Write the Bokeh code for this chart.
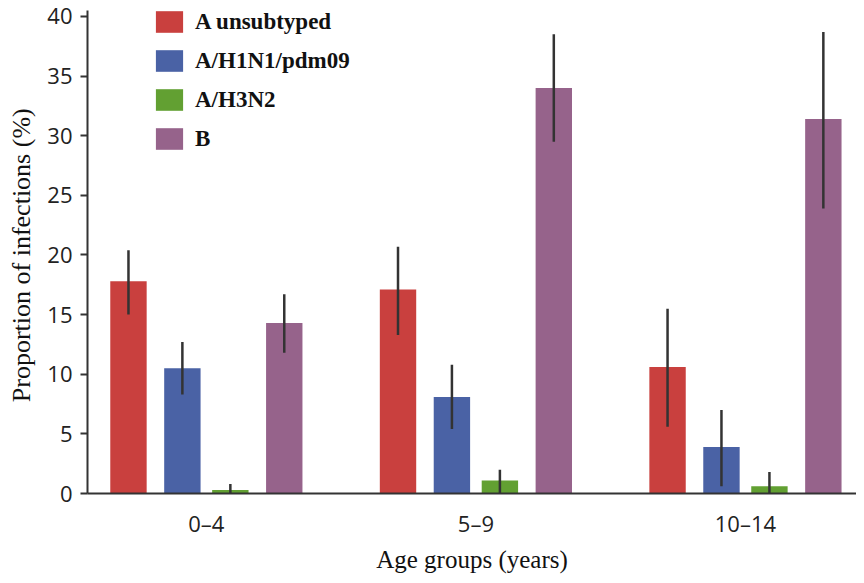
from bokeh.plotting import figure
from bokeh.models import Range1d, FixedTicker, ColumnDataSource, Legend, LegendItem
from bokeh.transform import dodge
from bokeh.embed import file_html
from bokeh.resources import INLINE

age_groups = ["0–4", "5–9", "10–14"]
subtypes = ["A unsubtyped", "A/H1N1/pdm09", "A/H3N2", "B"]
colors = ["#C9403E", "#4A62A5", "#62A032", "#96638B"]

a_unsub = [17.8, 17.1, 10.6]
a_unsub_lo = [15.0, 13.3, 5.6]
a_unsub_hi = [20.4, 20.7, 15.5]

h1n1 = [10.5, 8.1, 3.9]
h1n1_lo = [8.3, 5.4, 0.6]
h1n1_hi = [12.7, 10.8, 7.0]

h3n2 = [0.3, 1.1, 0.6]
h3n2_lo = [0.0, 0.0, 0.0]
h3n2_hi = [0.8, 2.0, 1.8]

b_vals = [14.3, 34.0, 31.4]
b_lo = [11.8, 29.5, 23.9]
b_hi = [16.7, 38.5, 38.7]

series = [
    (a_unsub, a_unsub_lo, a_unsub_hi),
    (h1n1, h1n1_lo, h1n1_hi),
    (h3n2, h3n2_lo, h3n2_hi),
    (b_vals, b_lo, b_hi),
]
offsets = [-0.289, -0.089, 0.089, 0.289]

p = figure(width=856, height=575, output_backend="svg", toolbar_location=None,
           x_range=Range1d(-0.441, 2.412), y_range=Range1d(0, 40.5),
           min_border_left=87, min_border_right=0, min_border_top=10, min_border_bottom=82)

p.outline_line_color = None
p.xgrid.grid_line_color = None
p.ygrid.grid_line_color = None
p.background_fill_color = "white"
p.border_fill_color = "white"

idx = list(range(len(age_groups)))
items = []
for (vals, lo, hi), off, col, name in zip(series, offsets, colors, subtypes):
    src = ColumnDataSource(dict(x=idx, top=vals, lo=lo, hi=hi))
    r = p.vbar(x=dodge("x", off, range=p.x_range), top="top", bottom=0, width=0.135,
               source=src, fill_color=col, line_color=None)
    p.segment(x0=dodge("x", off, range=p.x_range), y0="lo",
              x1=dodge("x", off, range=p.x_range), y1="hi",
              source=src, line_color="#333333", line_width=2.5)
    items.append(LegendItem(label=name, renderers=[r]))

legend = Legend(items=items, location=(65, 341), padding=0, margin=0,
                glyph_width=34, glyph_height=27, label_height=27, spacing=12,
                label_standoff=9, label_text_font="Liberation Serif",
                label_text_font_style="bold",
                label_text_font_size="23px", label_text_color="#111111",
                border_line_color=None, background_fill_alpha=0)
p.add_layout(legend, "center")

# Axes
xa = p.xaxis[0]
xa.ticker = FixedTicker(ticks=idx)
xa.major_label_overrides = {i: g for i, g in zip(idx, age_groups)}
xa.major_tick_line_color = None
xa.minor_tick_line_color = None
xa.major_tick_out = 0
xa.major_tick_in = 0
xa.major_label_standoff = 14
xa.major_label_text_font = "Open Sans"
xa.major_label_text_font_size = "22px"
xa.major_label_text_color = "#222222"
xa.axis_line_color = "#333333"
xa.axis_line_width = 2
xa.axis_label = "Age groups (years)"
xa.axis_label_text_font = "Liberation Serif"
xa.axis_label_text_font_style = "normal"
xa.axis_label_text_font_size = "25px"
xa.axis_label_text_color = "#111111"
xa.axis_label_standoff = 5

ya = p.yaxis[0]
ya.ticker = FixedTicker(ticks=[0, 5, 10, 15, 20, 25, 30, 35, 40])
ya.minor_tick_line_color = None
ya.major_tick_in = 0
ya.major_tick_out = 7
ya.major_tick_line_color = "#333333"
ya.major_tick_line_width = 2
ya.major_label_standoff = 8
ya.major_label_text_font = "Open Sans"
ya.major_label_text_font_size = "22px"
ya.major_label_text_color = "#222222"
ya.axis_line_color = "#333333"
ya.axis_line_width = 2
ya.axis_label = "Proportion of  infections (%)"
ya.axis_label_text_font = "Liberation Serif"
ya.axis_label_text_font_style = "normal"
ya.axis_label_text_font_size = "26px"
ya.axis_label_text_color = "#111111"
ya.axis_label_standoff = 8

open("out.html", "w").write(file_html(p, INLINE))
